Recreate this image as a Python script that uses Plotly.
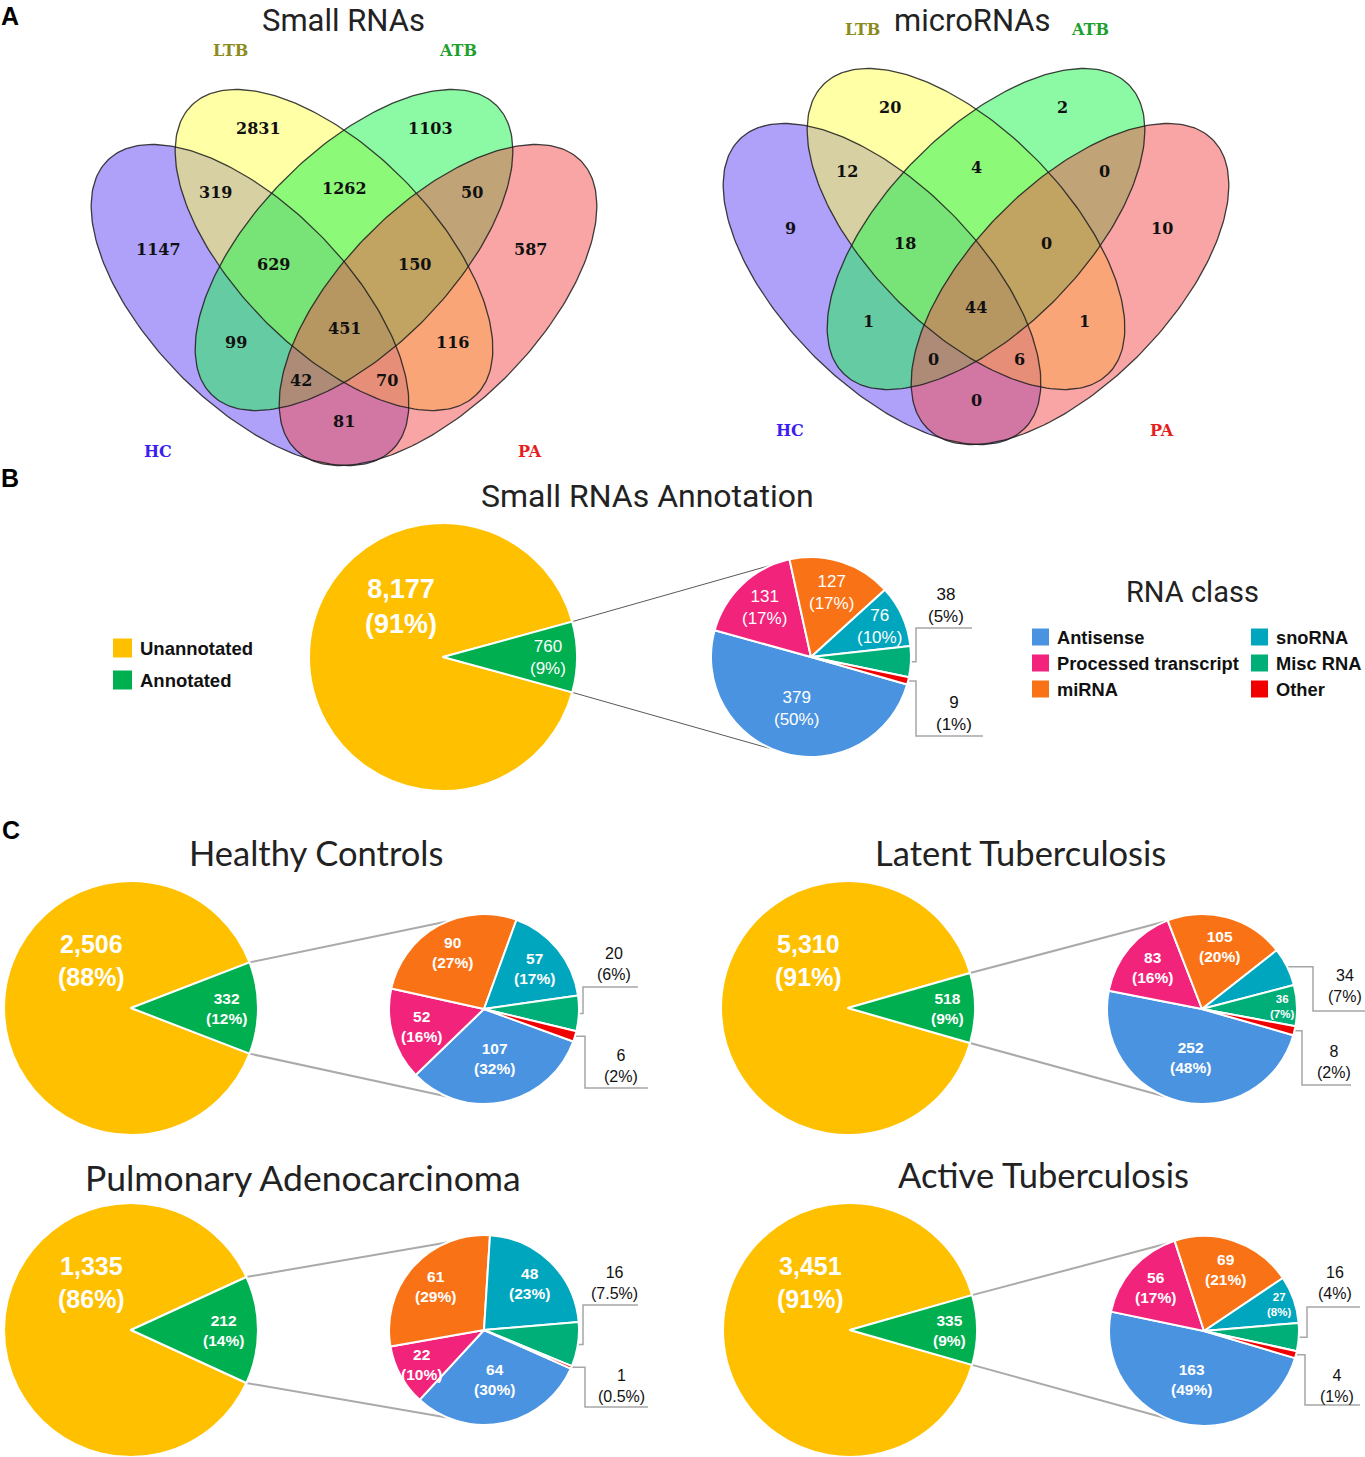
import math
import plotly.graph_objects as go

W, H = 1365, 1457

# ---------------- data ----------------
venn_set_names = ["HC", "LTB", "ATB", "PA"]
venn_regions = ["HC", "LTB", "ATB", "PA", "HC&LTB", "LTB&ATB", "ATB&PA",
                "HC&LTB&ATB", "LTB&ATB&PA", "HC&LTB&ATB&PA", "HC&ATB", "LTB&PA",
                "HC&ATB&PA", "HC&LTB&PA", "HC&PA"]
small_rna_counts = [1147, 2831, 1103, 587, 319, 1262, 50, 629, 150, 451, 99, 116, 42, 70, 81]
microrna_counts = [9, 20, 2, 10, 12, 4, 0, 18, 0, 44, 1, 1, 0, 6, 0]

annot_classes = ["Unannotated", "Annotated"]
rna_classes = ["Antisense", "Processed transcript", "miRNA", "snoRNA", "Misc RNA", "Other"]

all_annot_counts = [8177, 760]
all_annot_pct = ["91%", "9%"]
all_class_counts = [379, 131, 127, 76, 38, 9]
all_class_pct = ["50%", "17%", "17%", "10%", "5%", "1%"]

hc_annot_counts = [2506, 332]
hc_annot_pct = ["88%", "12%"]
hc_class_counts = [107, 52, 90, 57, 20, 6]
hc_class_pct = ["32%", "16%", "27%", "17%", "6%", "2%"]

ltb_annot_counts = [5310, 518]
ltb_annot_pct = ["91%", "9%"]
ltb_class_counts = [252, 83, 105, 34, 36, 8]
ltb_class_pct = ["48%", "16%", "20%", "7%", "7%", "2%"]

pa_annot_counts = [1335, 212]
pa_annot_pct = ["86%", "14%"]
pa_class_counts = [64, 22, 61, 48, 16, 1]
pa_class_pct = ["30%", "10%", "29%", "23%", "7.5%", "0.5%"]

atb_annot_counts = [3451, 335]
atb_annot_pct = ["91%", "9%"]
atb_class_counts = [163, 56, 69, 27, 16, 4]
atb_class_pct = ["49%", "17%", "21%", "8%", "4%", "1%"]

# ---------------- styles / layout constants ----------------
ANNOT_COLORS = ["#FFC000", "#00B050"]
CLASS_COLORS = ["#4A93E0", "#F2237A", "#F97316", "#00A6BE", "#00AE78", "#F00000"]
VENN_FILL = ["rgba(95,65,245,0.5)", "rgba(255,255,75,0.5)",
             "rgba(25,245,75,0.5)", "rgba(245,75,75,0.5)"]
VENN_SET_COLORS = ["#3C1EF0", "#8C8C1E", "#1EA02D", "#E61E1E"]
SANS = "Liberation Sans, Arial, sans-serif"
SERIF = "DejaVu Serif, serif"

# ellipse geometry in pixel space of the left diagram: (cx, cy, angle)
VENN_ELLIPSES = [(250, 305, 45.5), (334, 250, 45.5), (354, 250, 134.5), (438, 305, 134.5)]
VENN_A, VENN_B = 203, 99
VENN_LABEL_XY = [(158, 249), (258, 128), (430, 128), (530, 249), (215, 192), (344, 188),
                 (472, 192), (273, 264), (414, 264), (344, 328), (236, 342), (452, 342),
                 (301, 380), (387, 380), (344, 421)]
VENN_SET_XY = [(158, 451), (230, 50), (458, 50), (530, 451)]

fig = go.Figure()
ann = []
shapes = []


def pol(cx, cy, r, ang):
    a = math.radians(ang)
    return cx + r * math.sin(a), cy - r * math.cos(a)


def dom(cx, cy, r):
    return dict(x=[(cx - r) / W, (cx + r) / W], y=[1 - (cy + r) / H, 1 - (cy - r) / H])


def text(x, y, s, size, color="#000", family=SANS, xanchor="center", yanchor="middle"):
    ann.append(dict(x=x, y=y, xref="x", yref="y", text=s, showarrow=False,
                    font=dict(size=size, color=color, family=family),
                    xanchor=xanchor, yanchor=yanchor, borderpad=0))


# ---------------- A: Venn diagrams ----------------
def ellipse_pts(cx, cy, a, b, phi, n=240):
    p = math.radians(phi)
    xs, ys = [], []
    for i in range(n + 1):
        t = 2 * math.pi * i / n
        xs.append(cx + a * math.cos(t) * math.cos(p) - b * math.sin(t) * math.sin(p))
        ys.append(cy + a * math.cos(t) * math.sin(p) + b * math.sin(t) * math.cos(p))
    return xs, ys


def venn(counts, dx, dy):
    for k, (cx, cy, phi) in enumerate(VENN_ELLIPSES):
        xs, ys = ellipse_pts(cx + dx, cy + dy, VENN_A, VENN_B, phi)
        fig.add_trace(go.Scatter(x=xs, y=ys, mode="lines", fill="toself",
                                 fillcolor=VENN_FILL[k], line=dict(width=0),
                                 hoverinfo="skip", showlegend=False))
    for k, (cx, cy, phi) in enumerate(VENN_ELLIPSES):
        xs, ys = ellipse_pts(cx + dx, cy + dy, VENN_A, VENN_B, phi)
        fig.add_trace(go.Scatter(x=xs, y=ys, mode="lines",
                                 line=dict(width=1.3, color="rgba(30,30,30,0.85)"),
                                 hoverinfo="skip", showlegend=False))
    for (x, y), v in zip(VENN_LABEL_XY, counts):
        text(x + dx, y + dy, "<b>%d</b>" % v, 16, "#111", SERIF)
    for (x, y), nm, col in zip(VENN_SET_XY, venn_set_names, VENN_SET_COLORS):
        text(x + dx, y + dy, "<b>%s</b>" % nm, 16, col, SERIF)


venn(small_rna_counts, 0, 0)
venn(microrna_counts, 632, -21)
text(343, 1, "Small RNAs", 31, "#222", "Roboto", yanchor="top")
text(972, 1, "microRNAs", 31, "#222", "Roboto", yanchor="top")

# ---------------- pie of pie ----------------
def pie_of_pie(annot_vals, annot_pct, class_vals, class_pct, big, small, rot,
               callouts, big_font, lab_font, call_font, conn_color, conn_width, lab_bold):
    bx, by, br = big
    sx, sy, sr = small
    tot = sum(annot_vals)
    g = annot_vals[1] / tot * 360
    fig.add_trace(go.Pie(values=annot_vals, labels=annot_classes,
                         marker=dict(colors=ANNOT_COLORS, line=dict(color="white", width=2)),
                         sort=False, direction="clockwise", rotation=90 + g / 2,
                         textinfo="none", hoverinfo="skip", showlegend=False,
                         domain=dom(bx, by, br)))
    fig.add_trace(go.Pie(values=class_vals, labels=rna_classes,
                         marker=dict(colors=CLASS_COLORS, line=dict(color="white", width=2)),
                         sort=False, direction="clockwise", rotation=rot,
                         textinfo="none", hoverinfo="skip", showlegend=False,
                         domain=dom(sx, sy, sr)))
    b0, b1 = ("<b>", "</b>") if lab_bold else ("", "")
    # big pie labels
    yx, yy = pol(bx, by, 0.49 * br, 320)
    text(yx, yy, "<b>%s<br>(%s)</b>" % (format(annot_vals[0], ","), annot_pct[0]),
         big_font, "white")
    gf = annot_vals[1] / tot
    gx, gy = pol(bx, by, (0.88 - 1.1 * gf) * br, 90)
    text(gx, gy, "%s%s<br>(%s)%s" % (b0, format(annot_vals[1], ","), annot_pct[1], b1),
         lab_font, "white")
    # connector lines
    c1 = pol(bx, by, br, 90 - g / 2)
    c2 = pol(bx, by, br, 90 + g / 2)
    e1 = pol(sx, sy, sr, 337)
    e2 = pol(sx, sy, sr, 203)
    fig.add_trace(go.Scatter(x=[c1[0], e1[0], None, c2[0], e2[0]],
                             y=[c1[1], e1[1], None, c2[1], e2[1]], mode="lines",
                             line=dict(color=conn_color, width=conn_width),
                             hoverinfo="skip", showlegend=False))
    # small pie labels
    ctot = sum(class_vals)
    ang = rot
    mids = []
    for v in class_vals:
        span = v / ctot * 360
        mids.append(ang + span / 2)
        ang += span
    call_idx = [c[0] for c in callouts]
    for i, (v, p) in enumerate(zip(class_vals, class_pct)):
        if i in call_idx:
            continue
        f = v / ctot
        if f < 0.09:
            rf, fs = 0.84, lab_font - 4
        elif f < 0.13:
            rf, fs = 0.75, lab_font
        elif f < 0.295:
            rf, fs = 0.68, lab_font
        else:
            rf, fs = 0.53, lab_font
        lx, ly = pol(sx, sy, rf * sr, mids[i])
        text(lx, ly, "%s%d<br>(%s)%s" % (b0, v, p, b1), fs, "white")
    # callouts
    for idx, xv, ye, xe, tdx, tdy in callouts:
        s = pol(sx, sy, sr, mids[idx])
        fig.add_trace(go.Scatter(x=[s[0], sx + xv, sx + xv, sx + xe],
                                 y=[s[1], s[1], sy + ye, sy + ye], mode="lines",
                                 line=dict(color="#A6A6A6", width=1.5),
                                 hoverinfo="skip", showlegend=False))
        text(sx + tdx, sy + tdy, "%d<br>(%s)" % (class_vals[idx], class_pct[idx]),
             call_font, "#111")


# B
pie_of_pie(all_annot_counts, all_annot_pct, all_class_counts, all_class_pct,
           (443, 657, 134), (811, 657, 100), 106,
           [(4, 105, -29, 161, 135, -52), (5, 105, 79, 172, 143, 56)],
           27, 17, 17, "#595959", 1, False)
text(647, 496, "Small RNAs Annotation", 32, "#222", "Roboto")
text(10, 478, "<b>B</b>", 25, "#000")

# B legends
for i, (nm, col) in enumerate(zip(annot_classes, ANNOT_COLORS)):
    y = 648 + 32 * i
    shapes.append(dict(type="rect", xref="x", yref="y", x0=113, x1=132, y0=y - 9.5, y1=y + 9.5,
                       fillcolor=col, line=dict(width=0)))
    text(139, y, "<b>%s</b>" % nm, 18.5, "#111", xanchor="left")
text(1192, 592, "RNA class", 29, "#222", "Roboto")
for i, (nm, col) in enumerate(zip(rna_classes, CLASS_COLORS)):
    colx = 1032 if i < 3 else 1251
    y = 637 + 26 * (i % 3)
    shapes.append(dict(type="rect", xref="x", yref="y", x0=colx, x1=colx + 17, y0=y - 8.5,
                       y1=y + 8.5, fillcolor=col, line=dict(width=0)))
    text(colx + 24, y, "<b>%s</b>" % nm, 18.3, "#111", xanchor="left")

# C
text(11, 830, "<b>C</b>", 25, "#000")
pie_of_pie(hc_annot_counts, hc_annot_pct, hc_class_counts, hc_class_pct,
           (131, 1008, 127), (484, 1009, 95), 110,
           [(4, 99, -22, 154, 130, -45), (5, 101, 79, 164, 137, 57)],
           25, 15.5, 16, "#AAAAAA", 2, True)
text(316, 852, "Healthy Controls", 34.5, "#222", "Lato")

pie_of_pie(ltb_annot_counts, ltb_annot_pct, ltb_class_counts, ltb_class_pct,
           (848, 1008, 127), (1202, 1009, 95), 106,
           [(3, 111, 2, 163, 143, -23), (5, 100, 76, 149, 132, 53)],
           25, 15.5, 16, "#AAAAAA", 2, True)
text(1020, 852, "Latent Tuberculosis", 34.5, "#222", "Lato")

pie_of_pie(pa_annot_counts, pa_annot_pct, pa_class_counts, pa_class_pct,
           (131, 1330, 127), (484, 1330, 95), 114,
           [(4, 99, -25, 154, 130, -47), (5, 101, 77, 164, 137, 56)],
           25, 15.5, 16, "#AAAAAA", 2, True)
text(303, 1177, "Pulmonary Adenocarcinoma", 35.5, "#222", "Lato")

pie_of_pie(atb_annot_counts, atb_annot_pct, atb_class_counts, atb_class_pct,
           (850, 1330, 127), (1204, 1331, 95), 106.6,
           [(4, 103, -24, 156, 131, -48), (5, 101, 74, 156, 133, 55)],
           25, 15.5, 16, "#AAAAAA", 2, True)
text(1043, 1174, "Active Tuberculosis", 34.5, "#222", "Lato")

text(10, 16, "<b>A</b>", 25, "#000")

fig.update_layout(
    width=W, height=H, margin=dict(l=0, r=0, t=0, b=0),
    paper_bgcolor="white", plot_bgcolor="white", showlegend=False,
    xaxis=dict(range=[0, W], visible=False, fixedrange=True),
    yaxis=dict(range=[H, 0], visible=False, fixedrange=True),
    annotations=ann, shapes=shapes,
)

fig.write_html("out.html", config={"displayModeBar": False},
               post_script="document.body.style.margin='0';document.body.style.overflow='hidden';")
